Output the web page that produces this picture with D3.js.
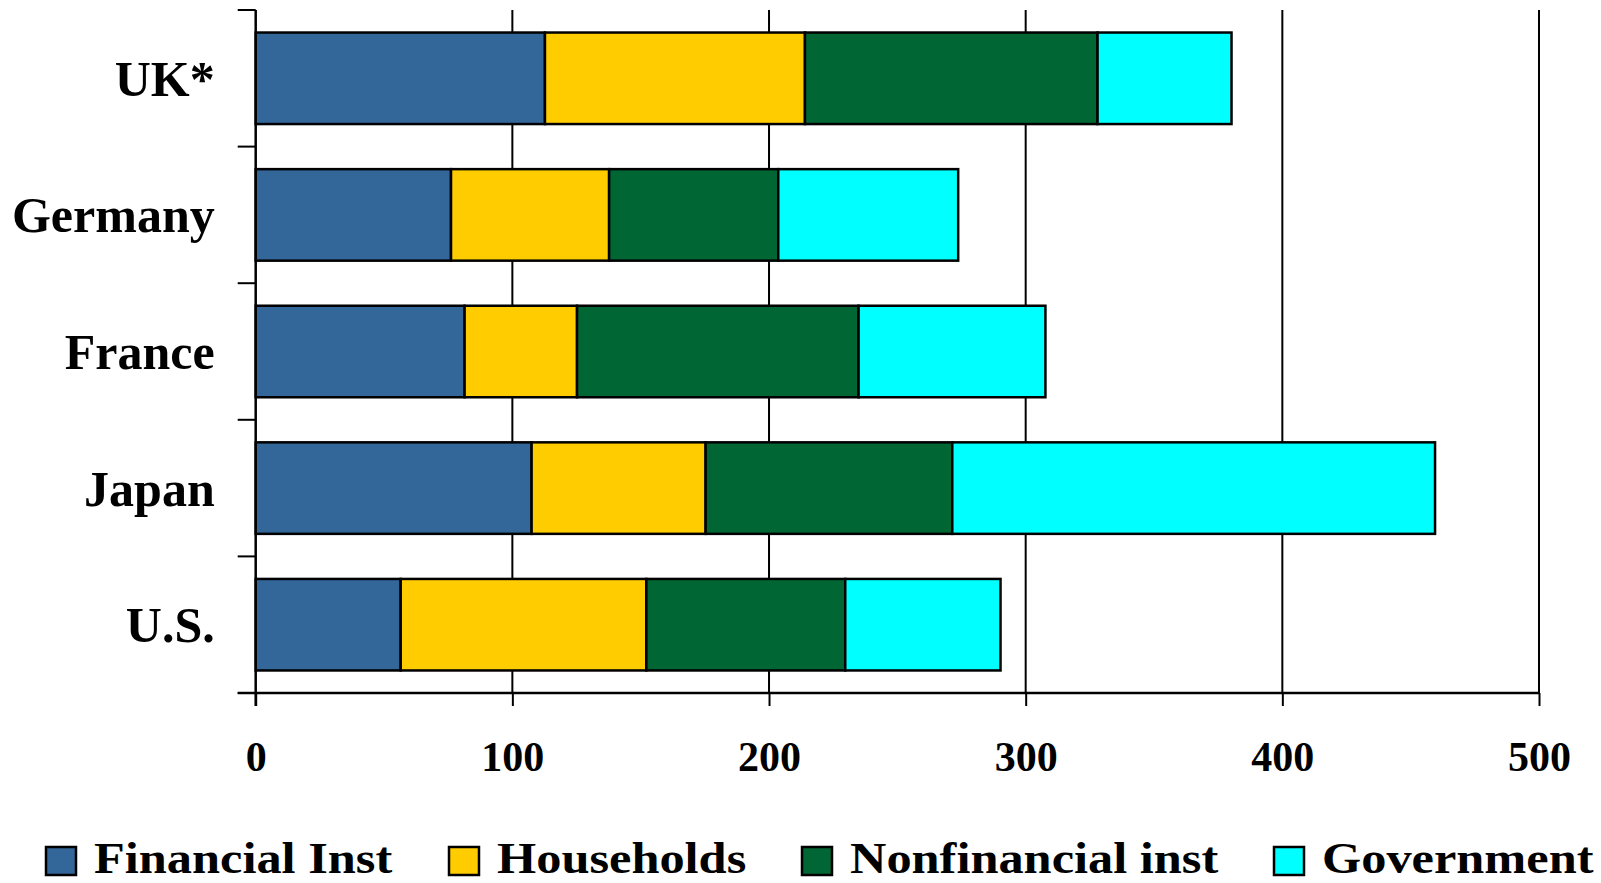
<!DOCTYPE html>
<html>
<head>
<meta charset="utf-8">
<script src="https://cdn.jsdelivr.net/npm/d3@7"></script>
<style>
  html, body { margin: 0; padding: 0; background: #fff; }
  svg { display: block; }
  text { font-family: "Liberation Serif", "Times New Roman", serif; font-weight: bold; fill: #000; }
</style>
</head>
<body>
<svg id="chart" width="1601" height="883"></svg>
<script>
// Sector breakdown per country (stacked horizontally)
const countries = ["UK*", "Germany", "France", "Japan", "U.S."];
const sectors = ["Financial Inst", "Households", "Nonfinancial inst", "Government"];
const financialInst = [112.7, 76.1, 81.4, 107.5, 56.5];
const households    = [101.3, 61.6, 43.8, 67.8, 95.7];
const nonfinancial  = [114.0, 65.9, 109.7, 96.1, 77.5];
const government    = [52.2, 70.1, 72.8, 188.1, 60.5];
const xTicks = [0, 100, 200, 300, 400, 500];
const colors = ["#336699", "#FFCC00", "#006633", "#00FFFF"];

(function () {
  const seriesValues = [financialInst, households, nonfinancial, government];
  const rows = countries.map((c, i) => {
    const r = { country: c };
    sectors.forEach((s, k) => { r[s] = seriesValues[k][i]; });
    return r;
  });

  const svg = d3.select("#chart");
  const plotLeft = 255.7, plotRight = 1539, plotTop = 10, plotBottom = 693;

  const x = d3.scaleLinear().domain([0, 500]).range([plotLeft, plotRight]);
  const y = d3.scaleBand().domain(countries).range([plotTop, plotBottom])
    .paddingInner(0.33).paddingOuter(0.165);

  // vertical gridlines
  svg.append("g").selectAll("line").data(xTicks.slice(1)).join("line")
    .attr("x1", d => x(d)).attr("x2", d => x(d))
    .attr("y1", plotTop).attr("y2", plotBottom)
    .attr("stroke", "#000").attr("stroke-width", 2);

  // stacked bars
  const stack = d3.stack().keys(sectors)(rows);
  svg.append("g").selectAll("g").data(stack).join("g")
    .attr("fill", (d, i) => colors[i])
    .selectAll("rect").data(d => d).join("rect")
    .attr("x", d => x(d[0]))
    .attr("width", d => x(d[1]) - x(d[0]))
    .attr("y", d => y(d.data.country))
    .attr("height", y.bandwidth())
    .attr("stroke", "#000").attr("stroke-width", 2.5);

  // x axis
  const xAxis = svg.append("g")
    .attr("transform", `translate(0,${plotBottom})`)
    .call(d3.axisBottom(x).tickValues(xTicks).tickSize(13).tickFormat(d3.format("d")));
  xAxis.select(".domain").remove();
  xAxis.selectAll(".tick line").attr("stroke", "#000").attr("stroke-width", 2);
  xAxis.selectAll(".tick text")
    .attr("y", 78).attr("dy", 0)
    .style("font-size", "42px")
    .style("font-family", "'Liberation Serif', 'Times New Roman', serif")
    .style("font-weight", "bold");
  svg.append("line")
    .attr("x1", plotLeft - 18).attr("x2", plotRight)
    .attr("y1", plotBottom).attr("y2", plotBottom)
    .attr("stroke", "#000").attr("stroke-width", 2.5);

  // y axis: labels at band centres, ticks between bands
  const yAxis = svg.append("g")
    .attr("transform", `translate(${plotLeft},0)`)
    .call(d3.axisLeft(y).tickSize(0).tickPadding(41));
  yAxis.select(".domain").remove();
  yAxis.selectAll(".tick text")
    .attr("dy", "0.35em")
    .style("font-size", "50px")
    .style("font-family", "'Liberation Serif', 'Times New Roman', serif")
    .style("font-weight", "bold");

  const boundaries = countries.map(c => y(c) - y.step() * y.paddingInner() / 2);
  boundaries.push(plotBottom);
  svg.append("g").selectAll("line").data(boundaries).join("line")
    .attr("x1", plotLeft - 18).attr("x2", plotLeft)
    .attr("y1", d => d).attr("y2", d => d)
    .attr("stroke", "#000").attr("stroke-width", 2);
  svg.append("line")
    .attr("x1", plotLeft).attr("x2", plotLeft)
    .attr("y1", plotTop).attr("y2", plotBottom + 13)
    .attr("stroke", "#000").attr("stroke-width", 2.5);

  // legend: swatch + slightly widened label
  const legendX = [46, 449, 802, 1274];
  const legend = svg.append("g").selectAll("g").data(sectors).join("g")
    .attr("transform", (d, i) => `translate(${legendX[i]},0)`);
  legend.append("rect")
    .attr("x", 0).attr("y", 847).attr("width", 30).attr("height", 28)
    .attr("fill", (d, i) => colors[i])
    .attr("stroke", "#000").attr("stroke-width", 2.5);
  legend.append("text")
    .attr("transform", "translate(48,873) scale(1.12,1)")
    .style("font-size", "45px")
    .text(d => d);
})();
</script>
</body>
</html>
